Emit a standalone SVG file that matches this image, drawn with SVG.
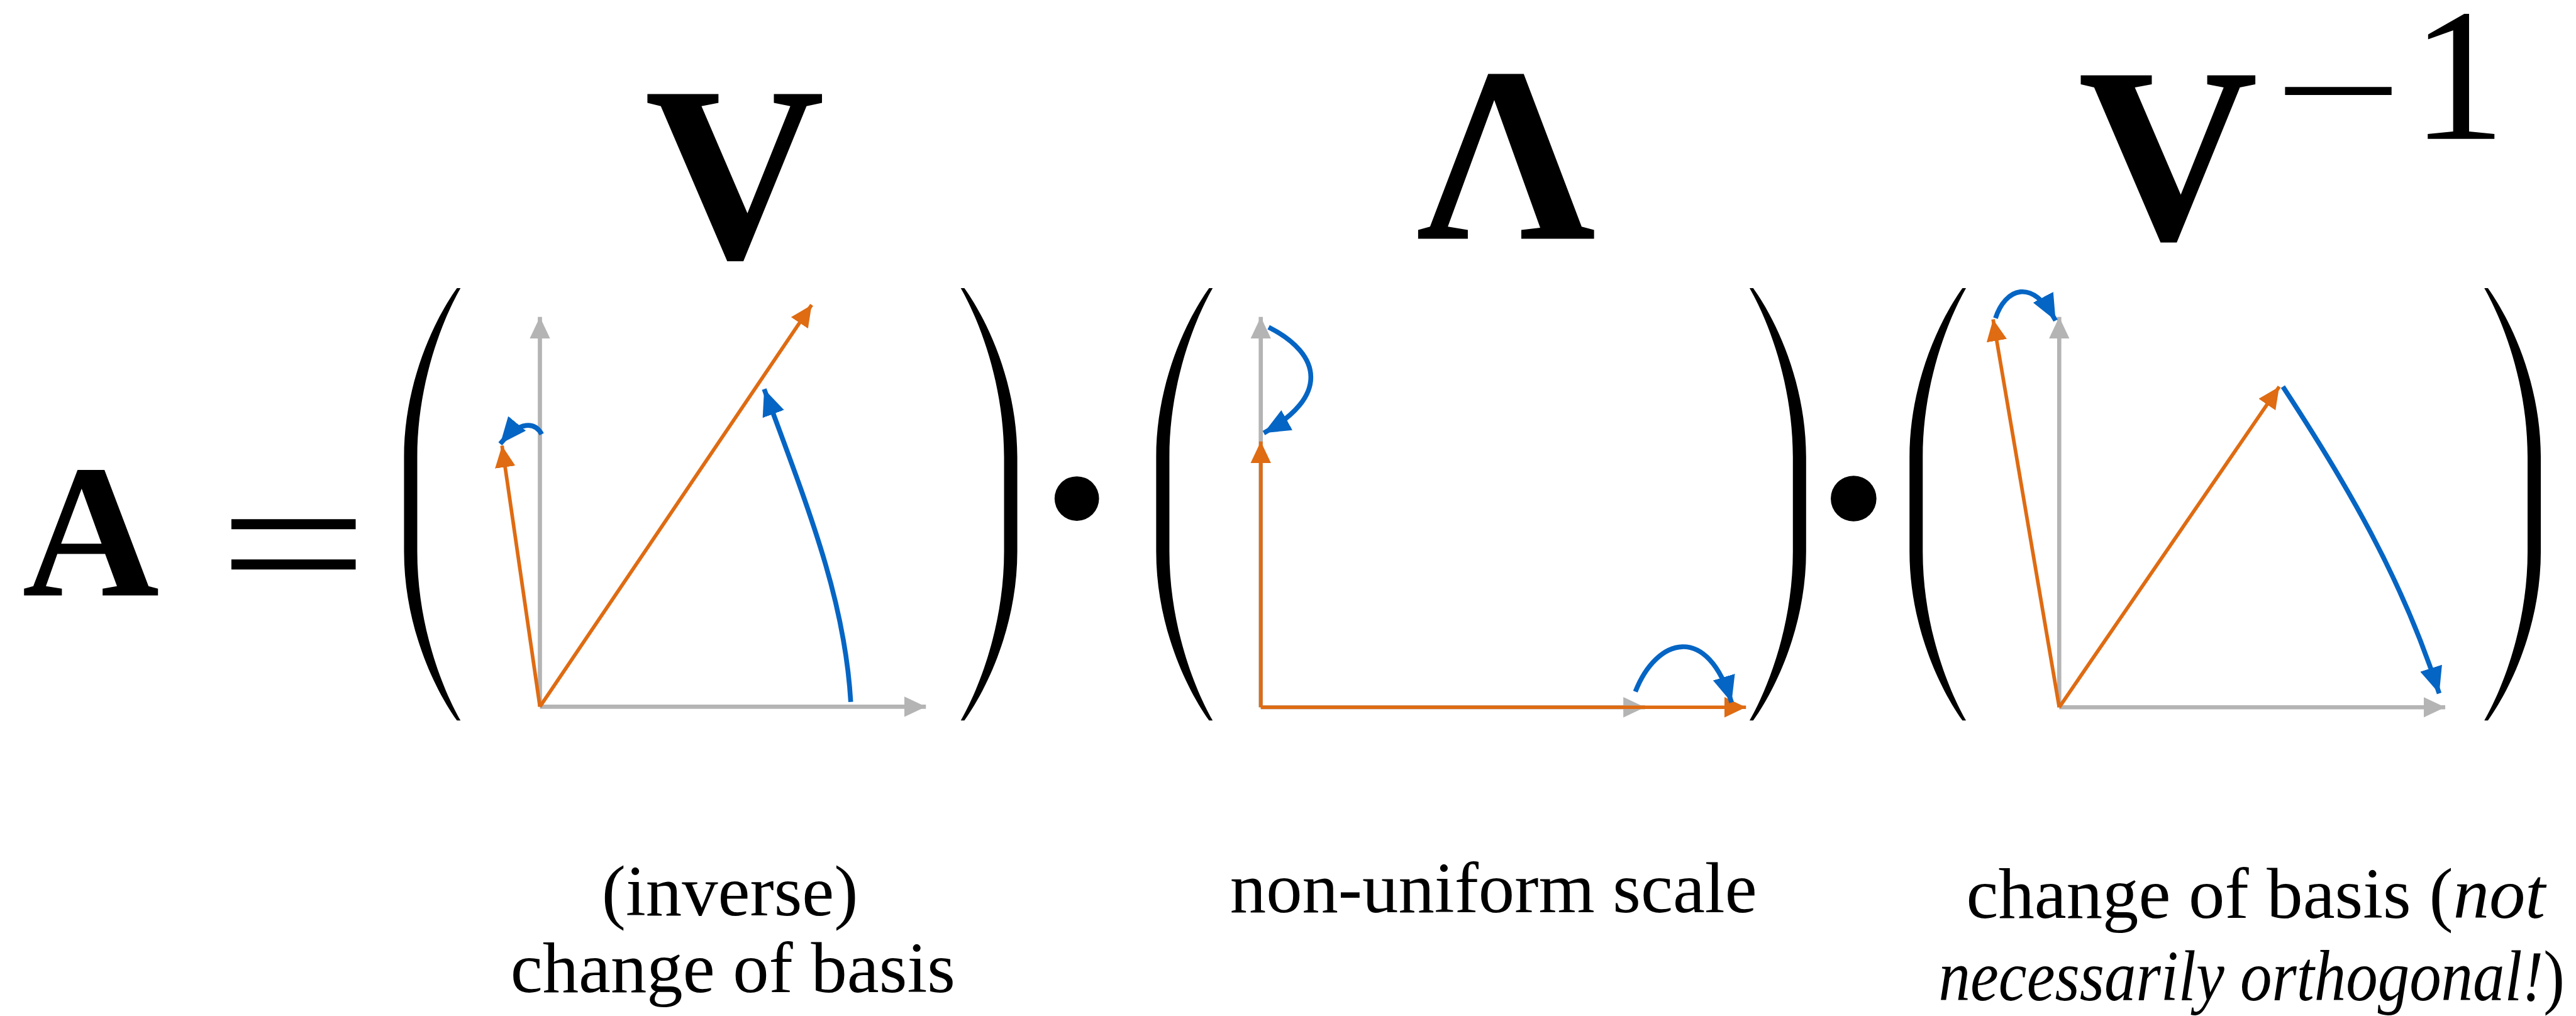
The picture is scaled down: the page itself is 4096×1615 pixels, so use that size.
<svg xmlns="http://www.w3.org/2000/svg" width="4096" height="1615" viewBox="0 0 4096 1615">
<style>
.math{font-family:"Liberation Serif","Times New Roman",serif;font-weight:bold;fill:#000;text-anchor:middle}
.num{font-family:"Liberation Serif","Times New Roman",serif;fill:#000;text-anchor:middle}
.lbl{font-family:"Liberation Serif","Times New Roman",serif;font-size:120px;fill:#000;text-anchor:middle}
.it{font-style:italic}
.ax{stroke:#b4b4b4;stroke-width:7;fill:none;marker-end:url(#hg)}
.or{stroke:#df6b12;stroke-width:6;fill:none;marker-end:url(#ho)}
.bl{stroke:#0565c4;stroke-width:8;fill:none;marker-end:url(#hb)}
.par{fill:#000}
</style>
<defs>
<marker id="hg" markerUnits="userSpaceOnUse" viewBox="0 0 36 34" markerWidth="36" markerHeight="34" refX="36" refY="17" orient="auto"><path d="M0 0L36 17L0 34Z" fill="#b4b4b4"/></marker>
<marker id="ho" markerUnits="userSpaceOnUse" viewBox="0 0 36 34" markerWidth="36" markerHeight="34" refX="36" refY="17" orient="auto"><path d="M0 0L36 17L0 34Z" fill="#df6b12"/></marker>
<marker id="hb" markerUnits="userSpaceOnUse" viewBox="0 0 44 38" markerWidth="44" markerHeight="38" refX="44" refY="19" orient="auto"><path d="M0 0L44 19L0 38Z" fill="#0565c4"/></marker>
<path id="paren" d="M94 0L88 0C48 56 0 161 0 281L0 438C0 558 48 663 88 719L94 719C62 663 22 558 22 438L22 281C22 161 62 56 94 0Z"/>
</defs>
<g transform="scale(0.956)">
<g id="lhs">
<text class="math" x="151" y="990" font-size="316">A</text>
<text class="num" transform="translate(488 1016) scale(1.33 1)" font-size="334">=</text>
</g>
<g id="panel-V">
<text class="math" x="1222" y="428" font-size="415">V</text>
<use href="#paren" class="par" transform="translate(672 479)"/>
<use href="#paren" class="par" transform="translate(1692 479) scale(-1 1)"/>
<g class="vectors">
<path class="ax" d="M898 1175L898 527"/>
<path class="ax" d="M898 1175L1540 1175"/>
<path class="or" d="M898 1175L835 741"/>
<path class="or" d="M898 1175L1350 507"/>
<path class="bl" d="M901 722C890 702 865 698 832 738"/>
<path class="bl" d="M1415 1167C1405 1000 1350 860 1271 647"/>
</g>
</g>
<circle id="dot1" cx="1791" cy="829" r="37" fill="#000"/>
<g id="panel-Lambda">
<text class="math" x="2505" y="397" font-size="415">Λ</text>
<use href="#paren" class="par" transform="translate(1923 479)"/>
<use href="#paren" class="par" transform="translate(3004 479) scale(-1 1)"/>
<g class="vectors">
<path class="ax" d="M2097 1176L2097 527"/>
<path class="ax" d="M2097 1176L2736 1176"/>
<path class="or" d="M2097 1176L2097 734"/>
<path class="or" d="M2097 1176L2904 1176"/>
<path class="bl" d="M2110 544C2200 590 2210 660 2102 720"/>
<path class="bl" d="M2720 1150C2755 1060 2840 1035 2880 1168"/>
</g>
</g>
<circle id="dot2" cx="3083" cy="829" r="38" fill="#000"/>
<g id="panel-Vinv">
<text class="math" x="3606" y="397" font-size="415">V</text>
<text class="num" transform="translate(3889 241) scale(1.41 1)" font-size="270">−</text>
<text class="num" x="4089" y="231" font-size="315">1</text>
<use href="#paren" class="par" transform="translate(3176 479)"/>
<use href="#paren" class="par" transform="translate(4226 479) scale(-1 1)"/>
<g class="vectors">
<path class="ax" d="M3425 1176L3425 527"/>
<path class="ax" d="M3425 1176L4067 1176"/>
<path class="or" d="M3425 1176L3315 531"/>
<path class="or" d="M3425 1176L3791 643"/>
<path class="bl" d="M3797 643C3900 800 3995 960 4057 1153"/>
<path class="bl" d="M3319 529C3335 480 3380 460 3419 533"/>
</g>
</g>
<g id="labels">
<text class="lbl" x="1214" y="1522">(inverse)</text>
<text class="lbl" x="1219" y="1650">change of basis</text>
<text class="lbl" x="2484" y="1517">non-uniform scale</text>
<text class="lbl" x="3752" y="1526">change of basis (<tspan class="it">not</tspan></text>
<text class="lbl" transform="translate(3745 1663) scale(0.88 1)"><tspan class="it">necessarily orthogonal!</tspan>)</text>
</g>
</g>
</svg>
